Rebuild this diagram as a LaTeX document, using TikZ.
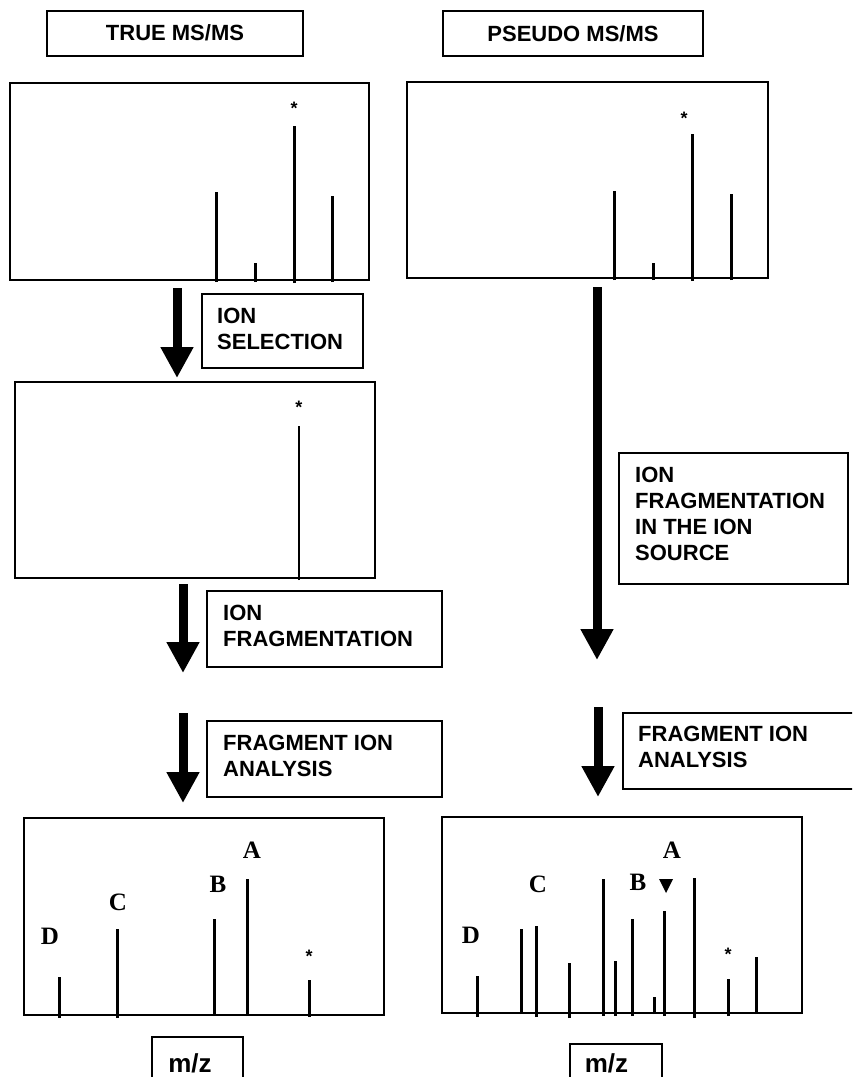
\documentclass[tikz,border=0pt]{standalone}
\usepackage{fontspec}
\setmainfont{Liberation Sans}
\newfontfamily\lserif{Liberation Serif}
\usetikzlibrary{arrows.meta}
\begin{document}
\begin{tikzpicture}[x=1pt,y=-1pt,
  specbox/.style={draw, line width=1.8pt, inner sep=0pt},
  labbox/.style={draw, line width=1.6pt, inner sep=0pt},
  labtext/.style={anchor=north west, inner sep=0pt, align=left, font=\fontsize{22}{26}\selectfont\bfseries},
  titletext/.style={anchor=base, inner sep=0pt, font=\fontsize{22}{26}\selectfont\bfseries},
  mztext/.style={anchor=base, inner sep=0pt, font=\fontsize{26}{26}\selectfont\bfseries},
  peak/.style={line width=3pt},
  bigarrow/.style={line width=9pt, -{Triangle[width=31pt,length=31pt]}},
  letter/.style={inner sep=0pt, font=\fontsize{25}{25}\selectfont\lserif\bfseries},
  starmark/.style={inner sep=0pt, anchor=base, font=\fontsize{18}{18}\selectfont\bfseries},
]
\useasboundingbox (0,0) rectangle (852,1077);
\clip (0,0) rectangle (852,1077);

% title boxes
\node[labbox, minimum width=256pt, minimum height=45pt] (truebox) at (175,33.5) {};
\node[titletext] (truetxt) at (175,40.5) {TRUE MS/MS};
\node[labbox, minimum width=260pt, minimum height=45pt] (pseudobox) at (573,33.5) {};
\node[titletext] (pseudotxt) at (573,41) {PSEUDO MS/MS};

% spectrum boxes
\node[specbox, minimum width=359pt, minimum height=197pt] (tl) at (189.5,181.5) {};
\node[specbox, minimum width=361pt, minimum height=196pt] (tr) at (587.5,180) {};
\node[specbox, minimum width=360pt, minimum height=196pt] (ml) at (195,480) {};
\node[specbox, minimum width=360pt, minimum height=197pt] (bl) at (204,916.5) {};
\node[specbox, minimum width=360pt, minimum height=196pt] (br) at (622,915) {};

% top-left peaks
\draw[peak] (216,282) -- (216,192);
\draw[peak] (255,282) -- (255,263);
\draw[peak] (294,283) -- (294,126);
\draw[peak] (332,282) -- (332,196);
\node[starmark] (s1) at (294,114) {*};

% top-right peaks
\draw[peak] (614,280) -- (614,191);
\draw[peak] (653,280) -- (653,263);
\draw[peak] (692,281) -- (692,134);
\draw[peak] (731,280) -- (731,194);
\node[starmark] (s2) at (684,124) {*};

% middle-left peak
\draw[line width=2.6pt] (299,580) -- (299,426);
\node[starmark] (s3) at (299,413) {*};

% bottom-left peaks
\draw[peak] (59,1018) -- (59,977);
\draw[peak] (117,1018) -- (117,929);
\draw[peak] (214,1016) -- (214,919);
\draw[peak] (247,1016) -- (247,879);
\draw[peak] (309,1017) -- (309,980);
\node[letter] (dl) at (50,936) {D};
\node[letter] (cl) at (118,902.5) {C};
\node[letter] (bll) at (218,884.5) {B};
\node[letter] (al) at (252,850.5) {A};
\node[starmark] (s4) at (309,962) {*};

% bottom-right peaks
\draw[peak] (477,1017) -- (477,976);
\draw[peak] (521,1014) -- (521,929);
\draw[peak] (536,1017) -- (536,926);
\draw[peak] (569,1018) -- (569,963);
\draw[peak] (603,1016) -- (603,879);
\draw[peak] (615,1016) -- (615,961);
\draw[peak] (632,1016) -- (632,919);
\draw[peak] (654,1014) -- (654,997);
\draw[peak] (664,1016) -- (664,911);
\draw[peak] (694,1018) -- (694,878);
\draw[peak] (728,1016) -- (728,979);
\draw[peak] (756,1014) -- (756,957);
\node[letter] (dr) at (471,935) {D};
\node[letter] (cr) at (538,884) {C};
\node[letter] (brl) at (638,882) {B};
\node[letter] (ar) at (672,850) {A};
\fill (659,879) -- (673,879) -- (666,893) -- cycle;
\node[starmark] (s5) at (728,960) {*};

% step boxes
\node[labbox, minimum width=161pt, minimum height=74pt] (selbox) at (282.5,331) {};
\node[labtext] (seltxt) at (217,308) {ION\\SELECTION};
\node[labbox, minimum width=235pt, minimum height=76pt] (fragbox) at (324.5,629) {};
\node[labtext] (fragtxt) at (223,605) {ION\\FRAGMENTATION};
\node[labbox, minimum width=229pt, minimum height=131pt] (srcbox) at (733.5,518.5) {};
\node[labtext] (srctxt) at (635,467) {ION\\FRAGMENTATION\\IN THE ION\\SOURCE};
\node[labbox, minimum width=235pt, minimum height=76pt] (fialbox) at (324.5,759) {};
\node[labtext] (fialtxt) at (223,735) {FRAGMENT ION\\ANALYSIS};
\node[labbox, minimum width=247pt, minimum height=76pt] (fiarbox) at (746.5,751) {};
\node[labtext] (fiartxt) at (638,726) {FRAGMENT ION\\ANALYSIS};

% arrows
\coordinate (a1s) at (177,288); \coordinate (a1e) at (177,378);
\coordinate (a2s) at (183,584); \coordinate (a2e) at (183,673);
\coordinate (a3s) at (183,713); \coordinate (a3e) at (183,803);
\coordinate (a4s) at (597,287); \coordinate (a4e) at (597,660);
\coordinate (a5s) at (598,707); \coordinate (a5e) at (598,797);
\draw[bigarrow] (a1s) -- (a1e);
\draw[bigarrow] (a2s) -- (a2e);
\draw[bigarrow] (a3s) -- (a3e);
\draw[bigarrow] (a4s) -- (a4e);
\draw[bigarrow] (a5s) -- (a5e);

% m/z boxes
\node[labbox, minimum width=91pt, minimum height=70pt] (mzl) at (197.5,1072) {};
\node[mztext] (mzltxt) at (190,1072) {m/z};
\node[labbox, minimum width=92pt, minimum height=70pt] (mzr) at (616,1079) {};
\node[mztext] (mzrtxt) at (606.5,1072) {m/z};
\end{tikzpicture}
\end{document}
